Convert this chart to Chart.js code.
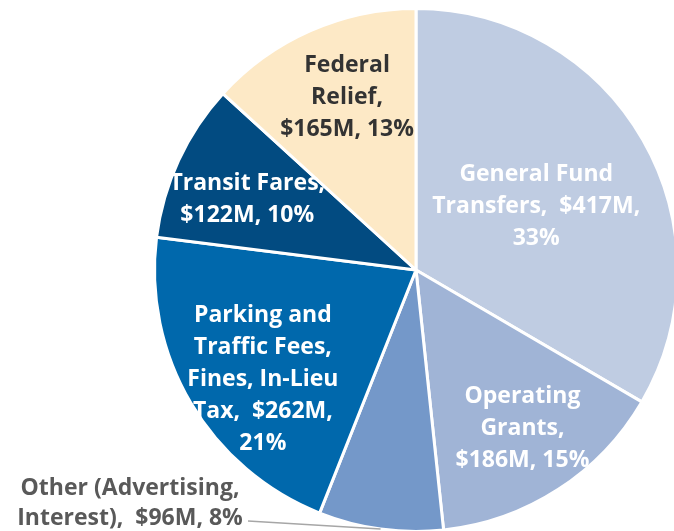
<!DOCTYPE html>
<html>
<head>
<meta charset="utf-8">
<script src="https://cdn.jsdelivr.net/npm/chart.js@4"></script>
<style>
    html, body { margin: 0; padding: 0; width: 674px; height: 531px; overflow: hidden; background: #fff; }
    #wrap { position: absolute; left: 0; top: 0; width: 832px; height: 540px; }
</style>
</head>
<body>
<div id="wrap"><canvas id="myChart"></canvas></div>
<script>
// revenue sources, clockwise from 12 o'clock
var labels = ["General Fund Transfers", "Operating Grants", "Other (Advertising, Interest)", "Parking and Traffic Fees, Fines, In-Lieu Tax", "Transit Fares", "Federal Relief"];
var amounts = [417, 186, 96, 262, 122, 165];
var shares = [33, 15, 8, 21, 10, 13];
var sliceText = [
    ["General Fund", "Transfers,  $417M,", "33%"],
    ["Operating", "Grants,", "$186M, 15%"],
    ["Other (Advertising,", "Interest),  $96M, 8%"],
    ["Parking and", "Traffic Fees,", "Fines, In-Lieu", "Tax,  $262M,", "21%"],
    ["Transit Fares,", "$122M, 10%"],
    ["Federal", "Relief,", "$165M, 13%"]
];
var barColors = ["#bfcce2", "#a0b4d6", "#7498c9", "#0068ac", "#024b81", "#fde9c6"];
var textColors = ["#ffffff", "#ffffff", "#595959", "#ffffff", "#ffffff", "#333333"];

// where each label sits: fraction of radius, angle nudge (deg)
var labelRadius = [0.52, 0.73, 0, 0.72, 0.70, 0.71];
var labelNudge = [2, -1, 0, -5, -2, 2];

const sliceLabels = {
    id: "sliceLabels",
    afterDatasetsDraw(chart) {
        const ctx = chart.ctx;
        const arcs = chart.getDatasetMeta(0).data;
        ctx.save();
        ctx.font = "bold 23px 'Open Sans'";
        ctx.textAlign = "center";
        ctx.textBaseline = "middle";
        arcs.forEach((arc, i) => {
            const lines = sliceText[i];
            ctx.fillStyle = textColors[i];
            if (i == 2) {
                // outside label with a leader line to the slice edge
                const mid = (arc.startAngle + arc.endAngle) / 2;
                const px = arc.x + Math.cos(mid) * arc.outerRadius;
                const py = arc.y + Math.sin(mid) * arc.outerRadius;
                const tx = arc.x - 286, ty = arc.y + 233;
                ctx.strokeStyle = "#a6a6a6";
                ctx.lineWidth = 1.5;
                ctx.beginPath();
                ctx.moveTo(tx + 118, ty + 18);
                ctx.lineTo(px, py);
                ctx.stroke();
                lines.forEach((l, k) => ctx.fillText(l, tx, ty - 15 + k * 30));
                return;
            }
            const mid = (arc.startAngle + arc.endAngle) / 2 + labelNudge[i] * Math.PI / 180;
            const r = arc.outerRadius * labelRadius[i];
            const cx = arc.x + Math.cos(mid) * r;
            const cy = arc.y + Math.sin(mid) * r;
            const lh = 32;
            lines.forEach((l, k) => {
                ctx.fillText(l, cx, cy + (k - (lines.length - 1) / 2) * lh);
            });
        });
        ctx.restore();
    }
};

new Chart("myChart", {
    type: "pie",
    data: {
        labels: labels,
        datasets: [{
            data: amounts,
            backgroundColor: barColors,
            borderColor: "#ffffff",
            borderWidth: 3
        }]
    },
    options: {
        responsive: true,
        maintainAspectRatio: false,
        animation: false,
        layout: { padding: { left: 153, right: 153, top: 7, bottom: 7 } },
        plugins: {
            legend: { display: false },
            tooltip: { enabled: false }
        }
    },
    plugins: [sliceLabels]
});
</script>
</body>
</html>
